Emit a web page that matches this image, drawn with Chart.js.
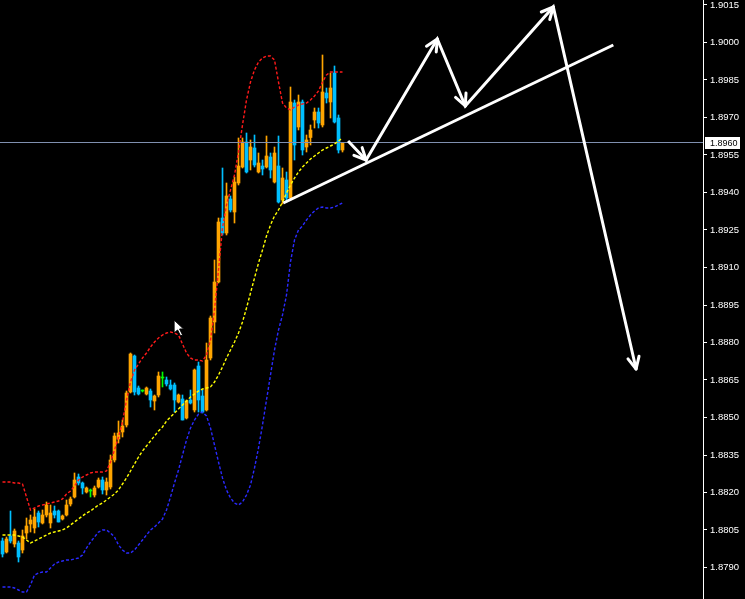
<!DOCTYPE html>
<html>
<head>
<meta charset="utf-8">
<title>GBPUSD chart</title>
<script src="https://cdn.jsdelivr.net/npm/chart.js"></script>
<style>
  html, body { margin: 0; padding: 0; background: #000; }
  #wrap { width: 745px; height: 599px; position: relative; }
</style>
</head>
<body>
<div id="wrap"><canvas id="chartCanvas"></canvas></div>
<script>
// candles (OHLC), one per bar
const opens = [1.88006,1.87962,1.88026,1.87994,1.87998,1.8797,1.88038,1.88074,1.88058,1.88118,
  1.88078,1.8811,1.88078,1.88126,1.88126,1.88094,1.8811,1.88154,1.88182,1.88262,
  1.88238,1.88202,1.88206,1.8819,1.88222,1.8825,1.8821,1.88222,1.8833,1.88414,
  1.88442,1.8847,1.88602,1.88746,1.88618,1.88606,1.88594,1.88606,1.88566,1.8859,
  1.88658,1.8865,1.8863,1.8863,1.88562,1.88574,1.88498,1.8857,1.8853,1.88706,
  1.88586,1.8853,1.88738,1.88882,1.89042,1.89298,1.89238,1.89374,1.89322,1.89438,
  1.89502,1.89602,1.8953,1.89578,1.89482,1.89506,1.89502,1.89542,1.89442,1.89506,
  1.8937,1.8945,1.89378,1.89758,1.89662,1.89762,1.89582,1.8962,1.8969,1.89722,
  1.8967,1.89798,1.89762,1.89878,1.89698,1.8957];
const highs = [1.88018,1.88022,1.88126,1.88054,1.88006,1.8805,1.88098,1.8811,1.88134,1.88126,
  1.8813,1.88162,1.8815,1.88146,1.8813,1.8811,1.8817,1.88182,1.88278,1.88274,
  1.88242,1.88222,1.88214,1.88226,1.88258,1.88262,1.88258,1.8835,1.88438,1.88486,
  1.8849,1.88606,1.88758,1.8875,1.88626,1.8861,1.88622,1.88614,1.8859,1.88682,
  1.88682,1.88662,1.8865,1.88638,1.88594,1.8859,1.8857,1.8861,1.88694,1.88722,
  1.8861,1.88798,1.88906,1.8913,1.89298,1.89498,1.89438,1.89386,1.89462,1.89618,
  1.89618,1.89638,1.8961,1.8963,1.89558,1.8953,1.89626,1.89558,1.89582,1.89626,
  1.89498,1.89482,1.89822,1.8977,1.8979,1.8977,1.8963,1.8967,1.89738,1.89738,
  1.8995,1.89818,1.89878,1.89906,1.8971,1.89598];
const lows = [1.87942,1.87958,1.87998,1.87982,1.87922,1.87958,1.88014,1.88042,1.88038,1.88062,
  1.88074,1.88102,1.88058,1.88098,1.88082,1.8809,1.88106,1.88146,1.88178,1.8823,
  1.88194,1.88198,1.88182,1.88182,1.88218,1.88194,1.8819,1.88214,1.88322,1.88398,
  1.88422,1.88462,1.88598,1.8859,1.8859,1.88602,1.8859,1.88542,1.8853,1.88582,
  1.88622,1.88626,1.8861,1.88522,1.88558,1.8849,1.88494,1.88554,1.88522,1.88522,
  1.88518,1.88526,1.8873,1.88838,1.89038,1.8923,1.8923,1.89322,1.89278,1.8943,
  1.89498,1.89478,1.8949,1.89502,1.89478,1.8947,1.89498,1.89458,1.89438,1.89358,
  1.89354,1.89362,1.8937,1.8953,1.8965,1.8955,1.89562,1.8959,1.89658,1.89658,
  1.89662,1.89758,1.89698,1.89678,1.89558,1.89562];
const closes = [1.87954,1.88014,1.88006,1.88046,1.87942,1.88026,1.88066,1.8809,1.88102,1.88082,
  1.8811,1.8815,1.88118,1.8811,1.88082,1.88106,1.8815,1.88174,1.8825,1.88238,
  1.88218,1.88218,1.88206,1.88218,1.8825,1.8821,1.88242,1.8833,1.88426,1.88438,
  1.88466,1.88598,1.88754,1.88602,1.88594,1.88606,1.88618,1.8857,1.88586,1.88666,
  1.88658,1.88634,1.88614,1.8857,1.8859,1.8849,1.88566,1.88558,1.8869,1.8857,
  1.88522,1.8873,1.88898,1.89042,1.89282,1.89238,1.89386,1.8933,1.89442,1.89506,
  1.89602,1.89482,1.89582,1.8951,1.89518,1.89494,1.89546,1.8949,1.89558,1.89362,
  1.89458,1.89378,1.89762,1.8959,1.89762,1.8957,1.8961,1.8965,1.89722,1.89678,
  1.89802,1.89778,1.89818,1.89682,1.8957,1.8960];

// bollinger bands
const upperBand = [1.88242,1.88242,1.88242,1.88238,1.88238,1.88234,1.88182,1.8813,1.88138,1.88146,
  1.8815,1.88154,1.88158,1.88162,1.88166,1.88174,1.88194,1.88206,1.88226,1.8825,
  1.88262,1.8827,1.88278,1.88282,1.88282,1.88282,1.88286,1.88322,1.8837,1.88422,
  1.88482,1.8857,1.88642,1.8869,1.88714,1.88738,1.88758,1.88782,1.88802,1.88818,
  1.8883,1.88838,1.88842,1.88838,1.8883,1.88794,1.88758,1.88738,1.8873,1.8873,
  1.88726,1.8875,1.8881,1.8893,1.8909,1.89258,1.8935,1.8941,1.8947,1.89562,
  1.8967,1.8977,1.89842,1.8989,1.89922,1.89938,1.89946,1.89946,1.8993,1.89842,
  1.89758,1.89738,1.8973,1.89742,1.8975,1.89754,1.89758,1.8977,1.89786,1.89806,
  1.89842,1.8987,1.89882,1.89882,1.89882,1.89882];
const middleBand = [1.8803,1.8803,1.8803,1.8803,1.88026,1.88022,1.8801,1.87998,1.88006,1.88014,
  1.88022,1.8803,1.88038,1.88042,1.88046,1.8805,1.88058,1.8807,1.88082,1.88094,
  1.88106,1.88118,1.88126,1.88138,1.8815,1.88158,1.8817,1.88182,1.88194,1.8821,
  1.88234,1.88258,1.88286,1.88314,1.88342,1.88366,1.88386,1.88406,1.88426,1.88446,
  1.88462,1.88486,1.88502,1.88518,1.88534,1.8855,1.88566,1.88582,1.88594,1.88606,
  1.88614,1.88618,1.88622,1.88642,1.8867,1.88702,1.88738,1.8877,1.88802,1.88838,
  1.88882,1.88938,1.88998,1.89058,1.89118,1.8917,1.89226,1.8927,1.89306,1.8933,
  1.89362,1.89398,1.8943,1.89458,1.89482,1.89502,1.89518,1.89534,1.89546,1.89558,
  1.8957,1.89578,1.89586,1.89594,1.89606,1.89618];
const lowerBand = [1.87822,1.87822,1.87822,1.87818,1.8781,1.87802,1.87802,1.8783,1.8787,1.87878,
  1.87882,1.87882,1.87898,1.87914,1.87922,1.87926,1.8793,1.8793,1.87934,1.87938,
  1.8795,1.87978,1.88002,1.88022,1.88042,1.8805,1.8805,1.88038,1.88022,1.8799,
  1.8797,1.87958,1.87958,1.8797,1.8799,1.8801,1.8803,1.8805,1.88062,1.88078,
  1.88094,1.8813,1.88182,1.88238,1.8829,1.8835,1.8841,1.88458,1.8849,1.88514,
  1.88522,1.88506,1.88458,1.8839,1.88322,1.88258,1.8821,1.88178,1.88158,1.8815,
  1.88162,1.8819,1.8823,1.88298,1.88378,1.8847,1.8857,1.8867,1.8877,1.8885,
  1.8891,1.8899,1.89122,1.8921,1.8925,1.89266,1.8929,1.8931,1.89326,1.89338,
  1.89342,1.89338,1.89338,1.89342,1.8935,1.89358];

// drawn objects (bar index, price)
const arrowX = [86.4, 90.9, 108.7, 115.7, 137.7, 158.4];
const arrowY = [1.89606, 1.8953, 1.90014, 1.89746, 1.90142, 1.88694];
const trendX = [70.2, 152.7];
const trendY = [1.89358, 1.8999];
const cursorAt = [42.9, 1.8889];

const lastPrice = 1.8960;
const tickValues = [1.9015, 1.9000, 1.8985, 1.8970, 1.8955, 1.8940, 1.8925, 1.8910,
  1.8895, 1.8880, 1.8865, 1.8850, 1.8835, 1.8820, 1.8805, 1.8790];

const bullColor = "#ffa500";
const bearColor = "#00bfff";
const dojiColor = "#00ff00";

const candleColors = opens.map(function (o, i) {
    if (closes[i] > o) return bullColor;
    if (closes[i] < o) return bearColor;
    return dojiColor;
});

const xy = function (xs, ys) {
    return xs.map(function (x, i) { return { x: x, y: ys[i] }; });
};
const idx = opens.map(function (o, i) { return i; });

// arrow heads + price tag + mouse pointer
const extras = {
    id: "extras",
    afterDatasetsDraw: function (chart) {
        const ctx = chart.ctx;
        const sx = chart.scales.x, sy = chart.scales.y;
        ctx.save();
        ctx.strokeStyle = "#ffffff";
        ctx.lineWidth = 3;
        ctx.lineCap = "round";
        for (let k = 1; k < arrowX.length; k++) {
            const x1 = sx.getPixelForValue(arrowX[k - 1]), y1 = sy.getPixelForValue(arrowY[k - 1]);
            const x2 = sx.getPixelForValue(arrowX[k]), y2 = sy.getPixelForValue(arrowY[k]);
            const a = Math.atan2(y2 - y1, x2 - x1);
            [-1, 1].forEach(function (s) {
                ctx.beginPath();
                ctx.moveTo(x2, y2);
                ctx.lineTo(x2 - 13 * Math.cos(a + s * 0.45), y2 - 13 * Math.sin(a + s * 0.45));
                ctx.stroke();
            });
        }

        // mouse pointer
        const cx = sx.getPixelForValue(cursorAt[0]), cy = sy.getPixelForValue(cursorAt[1]);
        ctx.lineWidth = 1;
        ctx.lineCap = "butt";
        ctx.beginPath();
        ctx.moveTo(cx, cy);
        ctx.lineTo(cx, cy + 13);
        ctx.lineTo(cx + 3.5, cy + 10);
        ctx.lineTo(cx + 6.5, cy + 16);
        ctx.lineTo(cx + 8.5, cy + 15);
        ctx.lineTo(cx + 5.5, cy + 9);
        ctx.lineTo(cx + 9.5, cy + 9);
        ctx.closePath();
        ctx.fillStyle = "#ffffff";
        ctx.fill();
        ctx.strokeStyle = "#000000";
        ctx.stroke();

        // last price tag on the axis
        const py = Math.round(sy.getPixelForValue(lastPrice));
        const left = chart.chartArea.right + 2;
        ctx.fillStyle = "#ffffff";
        ctx.fillRect(left, py - 6, 35, 12);
        ctx.fillStyle = "#000000";
        ctx.font = "9px 'Liberation Sans', Arial, sans-serif";
        ctx.textBaseline = "middle";
        ctx.fillText(lastPrice.toFixed(4), left + 5, py + 0.5);
        ctx.restore();
    }
};

const ctx = document.getElementById("chartCanvas").getContext("2d");

const chart = new Chart(ctx, {
    type: "bar",
    data: {
        datasets: [
            {
                type: "line",
                label: "arrows",
                data: xy(arrowX, arrowY),
                borderColor: "#ffffff",
                borderWidth: 3,
                pointRadius: 0,
                order: 1
            },
            {
                type: "line",
                label: "trend",
                data: xy(trendX, trendY),
                borderColor: "#ffffff",
                borderWidth: 3,
                pointRadius: 0,
                order: 1
            },
            {
                type: "line",
                label: "upper",
                data: xy(idx, upperBand),
                borderColor: "#ff1a1a",
                borderWidth: 1.4,
                borderDash: [3, 2],
                pointRadius: 0,
                order: 2
            },
            {
                type: "line",
                label: "middle",
                data: xy(idx, middleBand),
                borderColor: "#ffff00",
                borderWidth: 1.4,
                borderDash: [3, 2],
                pointRadius: 0,
                order: 2
            },
            {
                type: "line",
                label: "lower",
                data: xy(idx, lowerBand),
                borderColor: "#2a2aff",
                borderWidth: 1.4,
                borderDash: [3, 2],
                pointRadius: 0,
                order: 2
            },
            {
                type: "line",
                label: "price line",
                data: [{ x: -1, y: lastPrice }, { x: 180, y: lastPrice }],
                borderColor: "#8090b0",
                borderWidth: 1,
                pointRadius: 0,
                order: 3
            },
            {
                label: "bodies",
                data: idx.map(function (i) { return { x: i, y: [opens[i], closes[i]] }; }),
                backgroundColor: candleColors,
                barThickness: 3,
                minBarLength: 1,
                grouped: false,
                order: 4
            },
            {
                label: "wicks",
                data: idx.map(function (i) { return { x: i, y: [lows[i], highs[i]] }; }),
                backgroundColor: candleColors,
                barThickness: 1,
                grouped: false,
                order: 5
            }
        ]
    },
    options: {
        responsive: true,
        maintainAspectRatio: false,
        animation: false,
        layout: { padding: 0 },
        plugins: {
            legend: { display: false },
            tooltip: { enabled: false }
        },
        scales: {
            x: {
                type: "linear",
                display: false,
                offset: false,
                min: -0.625,
                max: 175.125
            },
            y: {
                position: "right",
                min: 1.87774,
                max: 1.9017,
                afterBuildTicks: function (scale) {
                    scale.ticks = tickValues.map(function (v) { return { value: v }; });
                },
                afterFit: function (scale) {
                    scale.width = 42;
                    scale.paddingTop = 0;
                    scale.paddingBottom = 0;
                },
                border: { display: true, color: "#ffffff", width: 1 },
                grid: {
                    drawOnChartArea: false,
                    drawTicks: true,
                    tickLength: 4,
                    color: "#ffffff"
                },
                ticks: {
                    color: "#ffffff",
                    padding: 3,
                    font: { family: "'Liberation Sans', Arial, sans-serif", size: 9.5 },
                    callback: function (v) { return Number(v).toFixed(4); }
                }
            }
        }
    },
    plugins: [extras]
});
</script>
</body>
</html>
